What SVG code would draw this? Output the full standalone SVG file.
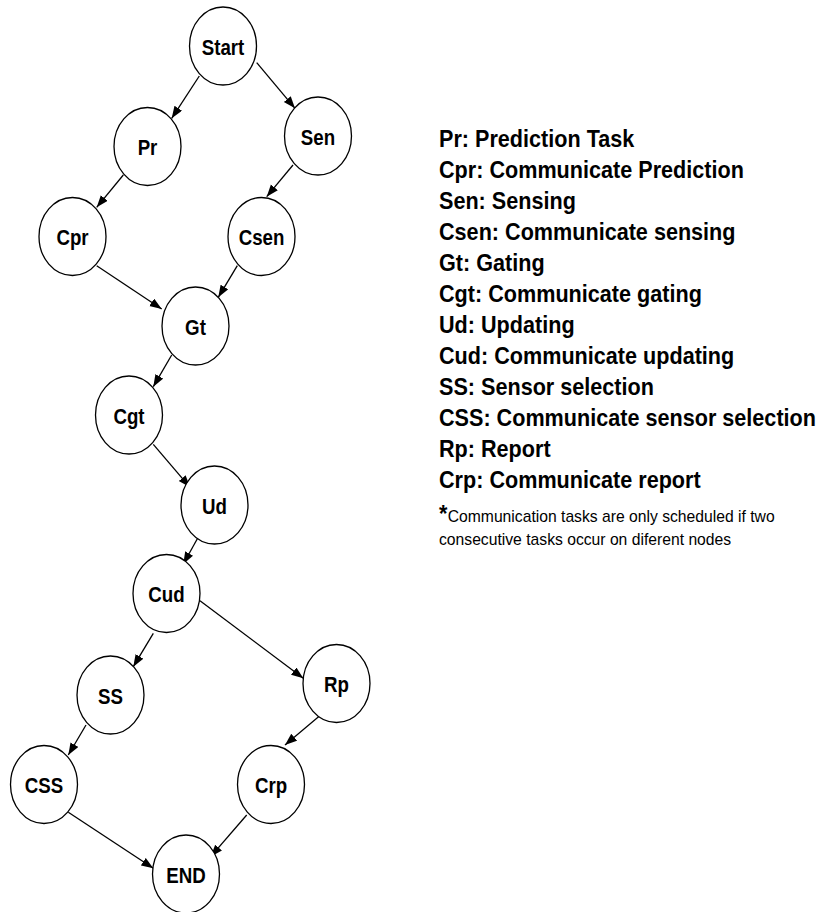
<svg xmlns="http://www.w3.org/2000/svg" width="824" height="912" viewBox="0 0 824 912">
<style>
.nd ellipse{fill:#fff;stroke:#000;stroke-width:1.3}
.nd text{font-family:"Liberation Sans",Arial,sans-serif;font-weight:bold;font-size:22px;text-anchor:middle;fill:#000}
.cn line{stroke:#000;stroke-width:1.3;fill:none;marker-end:url(#ah)}
.lg text{font-family:"Liberation Sans",Arial,sans-serif;font-weight:bold;font-size:23.5px;fill:#000}
.fn text{font-family:"Liberation Sans",Arial,sans-serif;font-size:15.7px;fill:#000}
</style>
<defs>
<marker id="ah" markerUnits="userSpaceOnUse" markerWidth="12" markerHeight="10" refX="12" refY="4.5" orient="auto">
<path d="M0,0 L12,4.5 L0,9 z" fill="#000"/>
</marker>
</defs>
<rect width="824" height="912" fill="#fff"/>
<g id="connectors" class="cn">
<line x1="199.3" y1="76" x2="171.7" y2="118.3"/>
<line x1="256.7" y1="62.7" x2="295" y2="108.3"/>
<line x1="293" y1="165" x2="266.7" y2="196.7"/>
<line x1="123.3" y1="175" x2="96.7" y2="207.3"/>
<line x1="96.7" y1="265.7" x2="161.7" y2="309"/>
<line x1="237.3" y1="265.7" x2="218.3" y2="297.3"/>
<line x1="171.7" y1="355" x2="153.3" y2="386.7"/>
<line x1="153.3" y1="444.3" x2="190" y2="487.3"/>
<line x1="200.7" y1="532.7" x2="183.3" y2="564"/>
<line x1="200" y1="600.7" x2="303.3" y2="678.3"/>
<line x1="153.3" y1="633.3" x2="133.3" y2="666.7"/>
<line x1="86" y1="725" x2="68.3" y2="755"/>
<line x1="323.3" y1="712.7" x2="285" y2="745"/>
<line x1="68.3" y1="812.3" x2="153.3" y2="868.3"/>
<line x1="246.7" y1="815" x2="210.7" y2="856.7"/>
</g>
<g id="n-start" class="nd" transform="translate(223,46)"><ellipse rx="33.5" ry="39"/><text y="8.5" transform="scale(0.85,1)">Start</text></g>
<g id="n-pr" class="nd" transform="translate(147.5,146.5)"><ellipse rx="33.5" ry="39"/><text y="8.5" transform="scale(0.85,1)">Pr</text></g>
<g id="n-sen" class="nd" transform="translate(318,136)"><ellipse rx="33.5" ry="39"/><text y="8.5" transform="scale(0.85,1)">Sen</text></g>
<g id="n-cpr" class="nd" transform="translate(72.5,236.5)"><ellipse rx="33.5" ry="39"/><text y="8.5" transform="scale(0.85,1)">Cpr</text></g>
<g id="n-csen" class="nd" transform="translate(261.5,236.5)"><ellipse rx="33.5" ry="39"/><text y="8.5" transform="scale(0.85,1)">Csen</text></g>
<g id="n-gt" class="nd" transform="translate(195.5,326)"><ellipse rx="33.5" ry="39"/><text y="8.5" transform="scale(0.85,1)">Gt</text></g>
<g id="n-cgt" class="nd" transform="translate(129,415)"><ellipse rx="33.5" ry="39"/><text y="8.5" transform="scale(0.85,1)">Cgt</text></g>
<g id="n-ud" class="nd" transform="translate(214.5,505)"><ellipse rx="33.5" ry="39"/><text y="8.5" transform="scale(0.85,1)">Ud</text></g>
<g id="n-cud" class="nd" transform="translate(166.5,593.5)"><ellipse rx="33.5" ry="39"/><text y="8.5" transform="scale(0.85,1)">Cud</text></g>
<g id="n-ss" class="nd" transform="translate(110.5,695)"><ellipse rx="33.5" ry="39"/><text y="8.5" transform="scale(0.85,1)">SS</text></g>
<g id="n-rp" class="nd" transform="translate(336.5,683.5)"><ellipse rx="33.5" ry="39"/><text y="8.5" transform="scale(0.85,1)">Rp</text></g>
<g id="n-css" class="nd" transform="translate(44,784.5)"><ellipse rx="33.5" ry="39"/><text y="8.5" transform="scale(0.85,1)">CSS</text></g>
<g id="n-crp" class="nd" transform="translate(271,784.5)"><ellipse rx="33.5" ry="39"/><text y="8.5" transform="scale(0.85,1)">Crp</text></g>
<g id="n-end" class="nd" transform="translate(186,874)"><ellipse rx="33.5" ry="39"/><text y="8.5" transform="scale(0.85,1)">END</text></g>
<g id="legend" class="lg" transform="translate(439,0) scale(0.92,1)">
<text y="147">Pr: Prediction Task</text>
<text y="178">Cpr: Communicate Prediction</text>
<text y="209">Sen: Sensing</text>
<text y="240">Csen: Communicate sensing</text>
<text y="271">Gt: Gating</text>
<text y="302">Cgt: Communicate gating</text>
<text y="333">Ud: Updating</text>
<text y="364">Cud: Communicate updating</text>
<text y="395">SS: Sensor selection</text>
<text y="426">CSS: Communicate sensor selection</text>
<text y="457">Rp: Report</text>
<text y="488">Crp: Communicate report</text>
<text y="522">*</text>
</g>
<g id="footnote" class="fn">
<text x="447.7" y="522">Communication tasks are only scheduled if two</text>
<text x="439" y="545">consecutive tasks occur on diferent nodes</text>
</g>
</svg>
